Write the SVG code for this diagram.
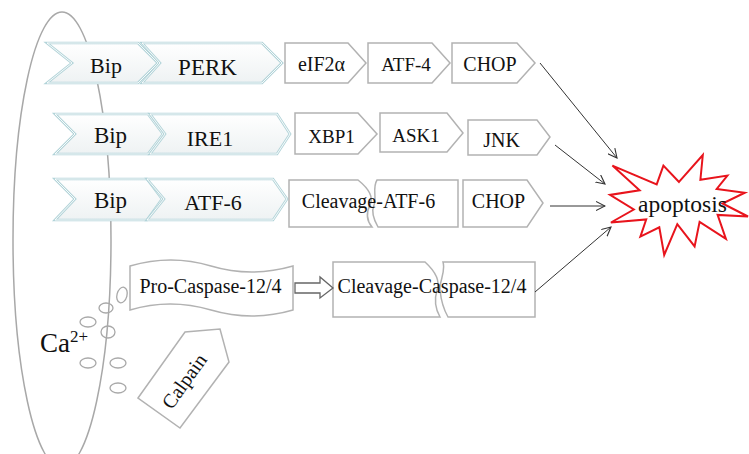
<svg xmlns="http://www.w3.org/2000/svg" width="749" height="454" viewBox="0 0 749 454">
  <defs>
    <linearGradient id="chevFill" x1="0" y1="0" x2="0" y2="1">
      <stop offset="0" stop-color="#ffffff"/>
      <stop offset="1" stop-color="#eef2f3"/>
    </linearGradient>
    <marker id="openArrow" viewBox="0 0 10 10" refX="9" refY="5" markerWidth="10" markerHeight="10" markerUnits="userSpaceOnUse" orient="auto">
      <path d="M0,0.5 L9,5 L0,9.5" fill="none" stroke="#333" stroke-width="1.1"/>
    </marker>
    <style>
      text { font-family: "Liberation Serif", "Times New Roman", serif; fill: #111; }
      .mid { text-anchor: middle; }
      .chev { fill: url(#chevFill); stroke: #b3d4d9; stroke-width: 2.6; stroke-linejoin: miter; }
      .chevIn { fill: none; stroke: #ffffff; stroke-width: 0.9; }
      .box { fill: #ffffff; stroke: #b2b2b2; stroke-width: 1.5; }
      .membrane { fill: none; stroke: #a8a8a8; stroke-width: 1.5; }
      .ion { fill: none; stroke: #a8a8a8; stroke-width: 1.3; }
      .link { fill: none; stroke: #333; stroke-width: 1; marker-end: url(#openArrow); }
      .burst { fill: #ffffff; stroke: #e8141c; stroke-width: 2; stroke-linejoin: miter; }
      .block { fill: #ffffff; stroke: #666; stroke-width: 1.3; }
    </style>
  </defs>

  <!-- endoplasmic reticulum membrane -->
  <g id="er">
    <ellipse class="membrane" cx="62" cy="240" rx="49" ry="228"/>
  </g>

  <!-- calcium ions -->
  <g id="calcium">
    <ellipse class="ion" cx="122" cy="295" rx="5" ry="8" transform="rotate(15 122 295)"/>
    <ellipse class="ion" cx="106" cy="308" rx="7" ry="5"/>
    <ellipse class="ion" cx="88" cy="322" rx="8" ry="5"/>
    <ellipse class="ion" cx="108" cy="332" rx="7" ry="6"/>
    <ellipse class="ion" cx="88" cy="363" rx="8" ry="5"/>
    <ellipse class="ion" cx="118" cy="363" rx="8" ry="5"/>
    <ellipse class="ion" cx="118" cy="388" rx="8" ry="5"/>
    <text x="40" y="352" font-size="27">Ca<tspan font-size="17" dy="-10">2+</tspan></text>
  </g>

  <!-- PERK branch -->
  <g id="bip-perk">
    <path class="chev" d="M47,43 H138 L158,63 L138,83 H47 L72,63 Z"/>
    <path class="chevIn" d="M47,43 H138 L158,63 L138,83 H47 L72,63 Z"/>
    <text class="mid" x="106" y="73" font-size="22">Bip</text>
  </g>
  <g id="perk">
    <path class="chev" d="M142,43 H262 L282,63 L262,83 H142 L160,63 Z"/>
    <path class="chevIn" d="M142,43 H262 L282,63 L262,83 H142 L160,63 Z"/>
    <text class="mid" x="207.5" y="75" font-size="23">PERK</text>
  </g>
  <g id="eif2a">
    <path class="box" d="M285,43 H348 L366,63 L348,83 H285 Z"/>
    <text class="mid" x="321.5" y="71" font-size="20">eIF2α</text>
  </g>
  <g id="atf4">
    <path class="box" d="M368,43 H432 L450,63 L432,83 H368 Z"/>
    <text class="mid" x="406" y="71" font-size="19">ATF-4</text>
  </g>
  <g id="chop-1">
    <path class="box" d="M452,43 H517 L535,63 L517,83 H452 Z"/>
    <text class="mid" x="490" y="71" font-size="20">CHOP</text>
  </g>

  <!-- IRE1 branch -->
  <g id="bip-ire1">
    <path class="chev" d="M55,114 H148 L163,134 L148,154 H55 L75,134 Z"/>
    <path class="chevIn" d="M55,114 H148 L163,134 L148,154 H55 L75,134 Z"/>
    <text class="mid" x="110.5" y="143" font-size="23">Bip</text>
  </g>
  <g id="ire1">
    <path class="chev" d="M150,114 H277 L290,134 L277,154 H150 L165,134 Z"/>
    <path class="chevIn" d="M150,114 H277 L290,134 L277,154 H150 L165,134 Z"/>
    <text class="mid" x="210" y="146" font-size="22">IRE1</text>
  </g>
  <g id="xbp1">
    <path class="box" d="M295,113 H358 L377,134 L358,154 H295 Z"/>
    <text class="mid" x="331.5" y="143" font-size="19">XBP1</text>
  </g>
  <g id="ask1">
    <path class="box" d="M380,113 H447 L463,133 L447,152 H380 Z"/>
    <text class="mid" x="416" y="142" font-size="19">ASK1</text>
  </g>
  <g id="jnk">
    <path class="box" d="M468,120 H537 L550,137 L537,155 H468 Z"/>
    <text class="mid" x="501.5" y="147" font-size="20">JNK</text>
  </g>

  <!-- ATF-6 branch -->
  <g id="bip-atf6">
    <path class="chev" d="M55,179 H147 L162,199 L147,220 H55 L75,199 Z"/>
    <path class="chevIn" d="M55,179 H147 L162,199 L147,220 H55 L75,199 Z"/>
    <text class="mid" x="110.5" y="208" font-size="23">Bip</text>
  </g>
  <g id="atf6">
    <path class="chev" d="M147,179 H273 L287,199 L273,220 H147 L164,199 Z"/>
    <path class="chevIn" d="M147,179 H273 L287,199 L273,220 H147 L164,199 Z"/>
    <text class="mid" x="213" y="210" font-size="22">ATF-6</text>
  </g>
  <g id="cleavage-atf6">
    <path class="box" d="M289,180 H358 C368,188 374,197 370,205 C366,213 367,221 372,227 H289 Z"/>
    <path class="box" d="M377,180 H458 V227 H378 C374,220 371,212 374,205 C377,197 372,188 377,180 Z"/>
    <text class="mid" x="368.5" y="208" font-size="20">Cleavage-ATF-6</text>
  </g>
  <g id="chop-3">
    <path class="box" d="M463,180 H527 L543,203 L527,227 H463 Z"/>
    <text class="mid" x="498.5" y="208" font-size="20">CHOP</text>
  </g>

  <!-- caspase branch -->
  <g id="pro-caspase">
    <path class="box" d="M130,266 Q171,254 211,266 T293,266 V310 Q252,322 211,310 T130,310 Z"/>
    <text class="mid" x="210.5" y="293" font-size="20">Pro-Caspase-12/4</text>
  </g>
  <g id="cleavage-caspase">
    <path class="box" d="M333,262 H425 C436,272 440,282 437,290 C434,300 436,310 440,317 H333 Z"/>
    <path class="box" d="M443,262 H535 V317 H448 C444,310 441,300 440,290 C439,282 446,272 443,262 Z"/>
    <text class="mid" x="432" y="293" font-size="20">Cleavage-Caspase-12/4</text>
  </g>
  <g id="calpain">
    <path class="box" d="M138,398 L185,332 L220,329 L229,362 L180,428 Z"/>
    <text class="mid" font-size="20" transform="translate(184 381) rotate(-54.5)" y="7">Calpain</text>
  </g>

  <!-- apoptosis -->
  <g id="apoptosis">
    <path class="burst" d="M679,181.9 L702.8,155 L700.4,179.7 L727.4,175.6 L716.7,188.9 L744.8,192.7 L722.5,203.5 L748,216.5 L717.6,214.9 L725.9,238.8 L699.6,221.9 L694.6,246.4 L677.3,224.1 L664.2,255 L659.3,227.3 L640.4,236.6 L646.2,219.5 L610.9,222.5 L633.8,209.5 L610,194.9 L639.6,190.3 L612.4,165.6 L656.7,184.3 L663.4,165.6 Z"/>
    <text class="mid" x="682.5" y="212" font-size="23.5">apoptosis</text>
  </g>

  <!-- connectors -->
  <g id="connectors">
    <path class="block" d="M295,283 H320 V277 L333,288 L320,298 V293 H295 Z"/>
    <line class="link" x1="540" y1="63" x2="617" y2="158"/>
    <line class="link" x1="555" y1="145" x2="605" y2="184"/>
    <line class="link" x1="550" y1="206" x2="605" y2="206"/>
    <line class="link" x1="535" y1="292" x2="611" y2="227"/>
  </g>
</svg>
